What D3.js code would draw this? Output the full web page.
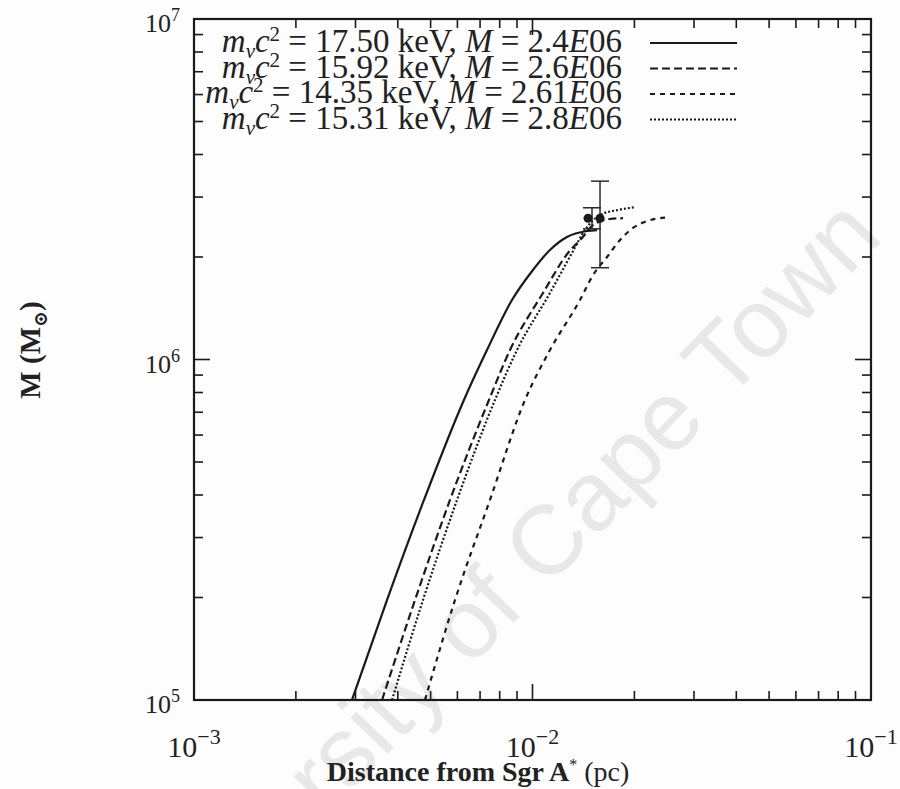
<!DOCTYPE html>
<html>
<head>
<meta charset="utf-8">
<script src="https://cdn.jsdelivr.net/npm/d3@7"></script>
<style>
  body { margin: 0; background: #fdfdfd; }
  svg { display: block; }
</style>
</head>
<body>
<script>
// Enclosed mass M(r) of fermion-ball models around Sgr A*
// radius in pc, mass in solar masses

// m_nu c^2 = 17.50 keV, M = 2.4E06 (solid)
const solidR = [0.002929, 0.003716, 0.004780, 0.006273, 0.007337, 0.008697, 0.01003, 0.01126, 0.01264, 0.01449, 0.01551];
const solidM = [1.0e5, 1.966e5, 3.868e5, 7.606e5, 1.066e6, 1.495e6, 1.832e6, 2.097e6, 2.290e6, 2.385e6, 2.40e6];

// m_nu c^2 = 15.92 keV, M = 2.6E06 (long dash)
const longDashR = [0.003593, 0.004497, 0.005705, 0.007437, 0.008581, 0.01074, 0.01273, 0.01400, 0.01510, 0.01694, 0.01851];
const longDashM = [1.0e5, 1.966e5, 3.868e5, 7.606e5, 1.066e6, 1.568e6, 2.055e6, 2.274e6, 2.483e6, 2.586e6, 2.60e6];

// m_nu c^2 = 14.35 keV, M = 2.61E06 (short dash)
const shortDashR = [0.004812, 0.005902, 0.007487, 0.009502, 0.01126, 0.01381, 0.01510, 0.01660, 0.01814, 0.01981, 0.02180, 0.02463];
const shortDashM = [1.0e5, 1.966e5, 3.868e5, 7.606e5, 1.066e6, 1.495e6, 1.771e6, 2.000e6, 2.244e6, 2.434e6, 2.551e6, 2.61e6];

// m_nu c^2 = 15.31 keV, M = 2.8E06 (dotted)
const dottedR = [0.003846, 0.004747, 0.005984, 0.007747, 0.009000, 0.01126, 0.01308, 0.01429, 0.01583, 0.01789, 0.02009];
const dottedM = [1.0e5, 1.966e5, 3.868e5, 7.606e5, 1.066e6, 1.568e6, 2.055e6, 2.401e6, 2.657e6, 2.749e6, 2.80e6];

// observed mass estimates with error bars
const obsR = [0.01459, 0.01583];
const obsM = [2.6e6, 2.6e6];
const errR = [0.01499, 0.01583];
const errLo = [2.42e6, 1.86e6];
const errHi = [2.79e6, 3.34e6];

// legend entries
const legendMass = ["17.50", "15.92", "14.35", "15.31"];
const legendTotal = ["2.4", "2.6", "2.61", "2.8"];
const legendDash = [null, "8,4", "5,5", "2,2"];

// axis ticks
const xTickVals = [1e-3, 1e-2, 1e-1];
const xTickExp = ["−3", "−2", "−1"];
const yTickVals = [1e5, 1e6, 1e7];
const yTickExp = ["5", "6", "7"];

const W = 900, H = 789;
const L = 194, R = 871, T = 19, B = 700;
const serif = "'Liberation Serif', 'DejaVu Serif', serif";

const svg = d3.select("body").append("svg").attr("width", W).attr("height", H);

const x = d3.scaleLog().domain([1e-3, 1e-1]).range([L, R]);
const y = d3.scaleLog().domain([1e5, 1e7]).range([B, T]);

// faint watermark behind the plot
svg.append("text")
  .attr("transform", "translate(500,600) rotate(-46)")
  .attr("text-anchor", "middle")
  .attr("dominant-baseline", "middle")
  .attr("font-family", "'Liberation Sans', Arial, sans-serif")
  .attr("font-size", 98)
  .attr("fill", "#e8e8e8")
  .text("University of Cape Town");

svg.append("clipPath").attr("id", "plotclip")
  .append("rect").attr("x", L).attr("y", T).attr("width", R - L).attr("height", B - T);

// curves
const series = [
  { r: solidR, m: solidM, dash: null },
  { r: longDashR, m: longDashM, dash: "8,4" },
  { r: shortDashR, m: shortDashM, dash: "5,5" },
  { r: dottedR, m: dottedM, dash: "2,2" }
];
const line = d3.line().curve(d3.curveMonotoneX).x(d => x(d[0])).y(d => y(d[1]));
const gCurves = svg.append("g").attr("clip-path", "url(#plotclip)");
series.forEach(s => {
  gCurves.append("path")
    .attr("d", line(s.r.map((r, i) => [r, s.m[i]])))
    .attr("fill", "none")
    .attr("stroke", "#1a1a1a")
    .attr("stroke-width", 2.2)
    .attr("stroke-dasharray", s.dash);
});

// error bars
const gErr = svg.append("g").attr("stroke", "#2a2a2a").attr("stroke-width", 1.5);
errR.forEach((r, i) => {
  const cx = x(r);
  gErr.append("line").attr("x1", cx).attr("x2", cx).attr("y1", y(errLo[i])).attr("y2", y(errHi[i]));
  [errLo[i], errHi[i]].forEach(v => {
    gErr.append("line").attr("x1", cx - 9).attr("x2", cx + 9).attr("y1", y(v)).attr("y2", y(v));
  });
});
// observation markers
svg.append("g").selectAll("circle").data(obsR).join("circle")
  .attr("cx", d => x(d)).attr("cy", (d, i) => y(obsM[i])).attr("r", 4.5)
  .attr("fill", "#1a1a1a");

// frame
svg.append("rect").attr("x", L).attr("y", T).attr("width", R - L).attr("height", B - T)
  .attr("fill", "none").attr("stroke", "#1a1a1a").attr("stroke-width", 2.2);

// inward ticks on all four sides
const gTicks = svg.append("g").attr("stroke", "#1a1a1a").attr("stroke-width", 1.6);
const minor = [2, 3, 4, 5, 6, 7, 8, 9];
[1e-3, 1e-2].forEach(dec => {
  minor.forEach(k => {
    const xv = x(dec * k);
    gTicks.append("line").attr("x1", xv).attr("x2", xv).attr("y1", B).attr("y2", B - 9);
    gTicks.append("line").attr("x1", xv).attr("x2", xv).attr("y1", T).attr("y2", T + 9);
  });
});
xTickVals.forEach(v => {
  const xv = x(v);
  gTicks.append("line").attr("x1", xv).attr("x2", xv).attr("y1", B).attr("y2", B - 16);
  gTicks.append("line").attr("x1", xv).attr("x2", xv).attr("y1", T).attr("y2", T + 16);
});
[1e5, 1e6].forEach(dec => {
  minor.forEach(k => {
    const yv = y(dec * k);
    gTicks.append("line").attr("x1", L).attr("x2", L + 9).attr("y1", yv).attr("y2", yv);
    gTicks.append("line").attr("x1", R).attr("x2", R - 9).attr("y1", yv).attr("y2", yv);
  });
});
yTickVals.forEach(v => {
  const yv = y(v);
  gTicks.append("line").attr("x1", L).attr("x2", L + 16).attr("y1", yv).attr("y2", yv);
  gTicks.append("line").attr("x1", R).attr("x2", R - 16).attr("y1", yv).attr("y2", yv);
});

// tick labels
const gLab = svg.append("g").attr("font-family", serif).attr("fill", "#222");
xTickVals.forEach((v, i) => {
  const t = gLab.append("text").attr("x", x(v)).attr("y", 757).attr("text-anchor", "middle").attr("font-size", 30);
  t.append("tspan").text("10");
  t.append("tspan").attr("dy", -13).attr("font-size", 22).text(xTickExp[i]);
});
yTickVals.forEach((v, i) => {
  const t = gLab.append("text").attr("x", 180).attr("y", y(v) + 13).attr("text-anchor", "end").attr("font-size", 26);
  t.append("tspan").text("10");
  t.append("tspan").attr("dy", -11).attr("font-size", 18).text(yTickExp[i]);
});

// axis titles
const xt = gLab.append("text").attr("x", 478).attr("y", 781).attr("text-anchor", "middle").attr("font-size", 28);
xt.append("tspan").attr("font-weight", "bold").text("Distance from Sgr A");
xt.append("tspan").attr("dy", -11).attr("font-size", 16).text("*");
xt.append("tspan").attr("dy", 11).text(" (pc)");

const yt = gLab.append("text").attr("transform", "translate(40,350) rotate(-90)")
  .attr("text-anchor", "middle").attr("font-size", 29).attr("font-weight", "bold");
yt.append("tspan").text("M (M");
yt.append("tspan").attr("dy", 7).attr("font-size", 19).text("⊙");
yt.append("tspan").attr("dy", -7).text(")");

// legend
const legX = 622, legY0 = 52, legDY = 25.5;
legendMass.forEach((mv, i) => {
  const by = legY0 + i * legDY;
  const t = gLab.append("text").attr("x", legX).attr("y", by).attr("text-anchor", "end").attr("font-size", 33);
  t.append("tspan").attr("font-style", "italic").text("m");
  t.append("tspan").attr("dy", 6).attr("font-size", 21).attr("font-style", "italic").text("ν");
  t.append("tspan").attr("dy", -6).attr("font-style", "italic").text("c");
  t.append("tspan").attr("dy", -11).attr("font-size", 21).text("2");
  t.append("tspan").attr("dy", 11).text(" = " + mv + " keV, ");
  t.append("tspan").attr("font-style", "italic").text("M");
  t.append("tspan").text(" = " + legendTotal[i]);
  t.append("tspan").attr("font-style", "italic").text("E");
  t.append("tspan").text("06");
  svg.append("line").attr("x1", 650).attr("x2", 737).attr("y1", by - 9).attr("y2", by - 9)
    .attr("stroke", "#1a1a1a").attr("stroke-width", 2)
    .attr("stroke-dasharray", legendDash[i]);
});
</script>
</body>
</html>
